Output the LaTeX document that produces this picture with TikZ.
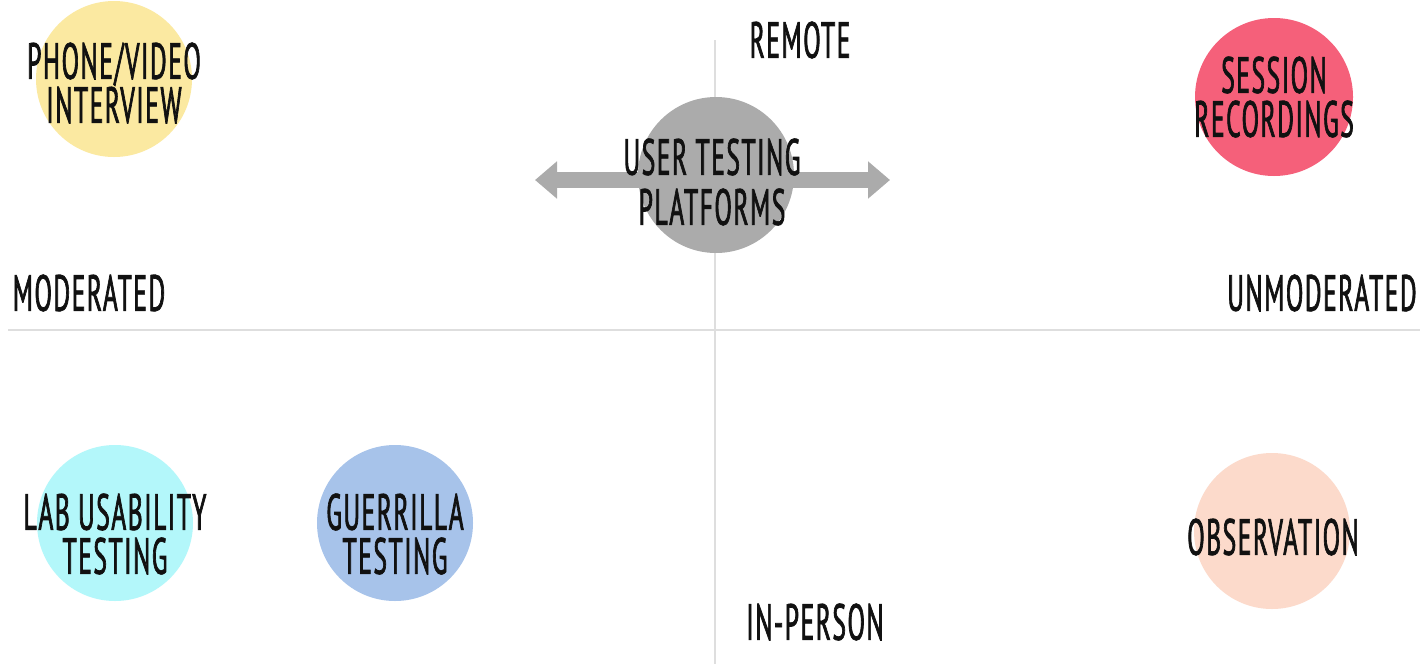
\documentclass[tikz,border=0pt]{standalone}
\usepackage{fontspec}
\usetikzlibrary{arrows.meta}
\newfontfamily\handfont[FakeStretch=0.5,FakeBold=1.3,LetterSpace=3]{PT Sans}
\definecolor{cyellow}{HTML}{FBE9A1}
\definecolor{cred}{HTML}{F5607A}
\definecolor{cgray}{HTML}{ABABAB}
\definecolor{ccyan}{HTML}{B3F7FA}
\definecolor{cblue}{HTML}{A7C3EA}
\definecolor{cpeach}{HTML}{FCDACB}
\definecolor{caxis}{HTML}{DEDEDE}
\definecolor{ctext}{HTML}{111111}
\tikzset{
  blob/.style={circle, minimum size=156pt, inner sep=0pt, draw=none},
  hand/.style={font=\handfont\fontsize{51}{44}\selectfont, text=ctext, align=center, inner sep=0pt},
  axisline/.style={draw=caxis, line width=2pt},
}
\begin{document}
\begin{tikzpicture}[x=1pt,y=-1pt]
\useasboundingbox (0,0) rectangle (1420,664);
\fill[white] (0,0) rectangle (1420,664);
% axes
\coordinate (vtop) at (715,40);
\coordinate (vbot) at (715,664);
\coordinate (hl) at (8,330);
\coordinate (hr) at (1420,330);
\draw[axisline] (vtop) -- (vbot);
\draw[axisline] (hl) -- (hr);
% arrow
\coordinate (al) at (535,180);
\coordinate (ar) at (890,180);
\draw[cgray, line width=16pt, {Triangle[width=36pt,length=22pt]}-{Triangle[width=36pt,length=22pt]}] (al) -- (ar);
% circles
\node[blob, fill=cyellow] (phone) at (114,79) {};
\node[blob, fill=cred, minimum size=158pt] (session) at (1274,97) {};
\node[blob, fill=cgray] (platforms) at (716,175) {};
\node[blob, fill=ccyan] (lab) at (115,523) {};
\node[blob, fill=cblue] (guerrilla) at (395,523) {};
\node[blob, fill=cpeach] (observation) at (1272,531) {};
% labels
\node[hand] (phonet) at (114,83) {PHONE/VIDEO\\INTERVIEW};
\node[hand] (sessiont) at (1274,97) {SESSION\\RECORDINGS};
\node[hand, font=\handfont\fontsize{51}{50}\selectfont] (platformst) at (712,182) {USER TESTING\\PLATFORMS};
\node[hand] (labt) at (115,534) {LAB USABILITY\\TESTING};
\node[hand] (guerrillat) at (395,534) {GUERRILLA\\TESTING};
\node[hand] (observationt) at (1273,537) {OBSERVATION};
\node[hand] (remote) at (800,40) {REMOTE};
\node[hand] (inperson) at (815,622) {IN-PERSON};
\node[hand] (moderated) at (89,293) {MODERATED};
\node[hand] (unmoderated) at (1322,293) {UNMODERATED};
\end{tikzpicture}
\end{document}
